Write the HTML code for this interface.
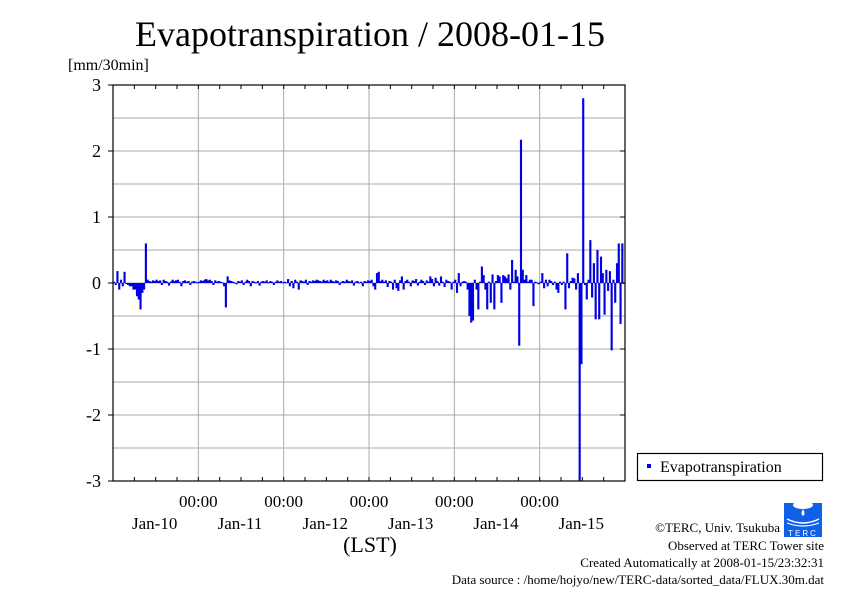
<!DOCTYPE html>
<html><head><meta charset="utf-8"><style>
html,body{margin:0;padding:0;background:#fff;}
svg{display:block;font-family:"Liberation Serif",serif;}
</style></head><body>
<svg id="chart" width="842" height="595" viewBox="0 0 842 595">
<text x="370" y="46" text-anchor="middle" font-size="36">Evapotranspiration / 2008-01-15</text>
<text x="68" y="70" font-size="16">[mm/30min]</text>
<g id="grid"></g>
<g id="bars"></g>
<g id="axes"></g>
<text x="370" y="552" text-anchor="middle" font-size="22">(LST)</text>
<g>
<rect x="637.5" y="453.5" width="185" height="27" fill="#fff" stroke="#000" stroke-width="1.2"/>
<rect x="647" y="464" width="4" height="4" fill="#0000e6"/>
<text x="660" y="472" font-size="16">Evapotranspiration</text>
</g>
<g>
<rect x="784" y="503" width="38" height="34" fill="#1060e8"/>
<ellipse cx="803" cy="505" rx="10" ry="4" fill="#fff"/>
<path d="M803 509 q-3 5 0 7 q3 -2 0 -7z" fill="#fff"/>
<path d="M787 519 q16 8 32 0" stroke="#fff" stroke-width="1.5" fill="none"/>
<path d="M787 523 q16 6 32 0" stroke="#fff" stroke-width="1.2" fill="none"/>
<text x="803" y="536" text-anchor="middle" font-size="8" fill="#fff" font-family="Liberation Sans,sans-serif" letter-spacing="2">TERC</text>
</g>
<g font-size="13" text-anchor="end">
<text x="780" y="532">©TERC, Univ. Tsukuba</text>
<text x="824" y="550">Observed at TERC Tower site</text>
<text x="824" y="567">Created Automatically at 2008-01-15/23:32:31</text>
<text x="824" y="584">Data source : /home/hojyo/new/TERC-data/sorted_data/FLUX.30m.dat</text>
</g>
</svg>
<script>
const yTicks = [-3,-2,-1,0,1,2,3];
const dayLabels = ["Jan-10","Jan-11","Jan-12","Jan-13","Jan-14","Jan-15"];
const timeLabels = ["00:00","00:00","00:00","00:00","00:00"];
const values = [
0.02,-0.03,0.18,-0.1,0.05,-0.05,0.17,0,-0.03,-0.05,-0.05,-0.1,
-0.1,-0.2,-0.25,-0.4,-0.15,-0.1,0.6,0.05,0.03,0.02,0.04,0.03,
0.05,0.03,0.04,-0.03,0.05,0.03,0.02,-0.04,0.02,0.05,0.03,0.04,
0.05,0.02,-0.05,0.03,0.04,0.02,0.03,-0.03,0.02,0.03,0.02,0.01,
0.02,0.04,0.03,0.05,0.06,0.04,0.05,0.03,-0.03,0.04,0.02,0.03,
0.02,0.01,-0.05,-0.37,0.1,0.04,0.03,0.02,0.01,-0.02,0.03,0.02,
0.04,-0.03,0.02,0.05,0.03,-0.05,0.03,0.02,0.01,0.03,-0.04,0.02,
0.03,0.02,0.04,0.01,0.03,0.02,-0.03,0.02,0.04,0.02,0.03,0.01,
0.02,0.01,0.06,-0.05,0.03,-0.08,0.05,0.02,-0.1,0.04,0.03,0.02,
0.05,-0.03,0.03,0.02,0.04,0.03,0.05,0.04,0.03,0.02,0.05,0.03,
0.04,0.02,0.05,0.03,0.02,0.04,0.03,-0.03,0.02,0.03,0.02,0.05,
0.03,0.02,0.04,-0.04,0.02,0.03,0.01,0.02,-0.05,0.03,0.02,0.04,
0.03,0.05,-0.05,-0.1,0.15,0.17,0.03,0.05,0.02,0.04,-0.06,0.03,
0.02,-0.1,0.05,-0.08,-0.12,0.04,0.1,-0.1,0.03,0.05,0.02,-0.05,
0.04,0.03,0.06,-0.04,0.02,0.05,0.03,-0.03,0.04,0.02,0.1,0.06,
-0.05,0.08,0.03,-0.04,0.1,0.02,-0.06,0.05,0.03,0.02,-0.1,0.02,
0.05,-0.15,0.15,-0.05,0.02,0.03,0.02,-0.1,-0.5,-0.6,-0.57,0.05,
-0.1,-0.4,0.02,0.25,0.12,-0.1,-0.4,0.02,-0.3,0.13,-0.4,0.03,
0.12,0.1,-0.3,0.12,0.1,0.07,0.13,-0.1,0.35,0.02,0.2,0.1,
-0.95,2.17,0.2,0.05,0.12,0.02,0.05,0.05,-0.35,0.02,0.01,-0.02,
0.02,0.15,-0.08,0.05,-0.05,0.05,0.03,-0.03,0.02,-0.1,-0.15,0.02,
-0.03,0.02,-0.4,0.45,-0.08,0.03,0.08,0.07,-0.1,0.15,-3,-1.23,
2.8,-0.03,-0.25,0.05,0.65,-0.22,0.3,-0.55,0.5,-0.55,0.4,0.15,
-0.48,0.2,-0.12,0.18,-1.02,0.05,-0.3,0.3,0.6,-0.62,0.6,0
];
const NS="http://www.w3.org/2000/svg";
const X0=113, X1=625, Y0=85, Y1=481, YMIN=-3, YMAX=3, N=288;
function xs(i){return X0+(X1-X0)*i/N;}
function ys(v){return Y1-(v-YMIN)/(YMAX-YMIN)*(Y1-Y0);}
function mk(tag,attrs,parent){const e=document.createElementNS(NS,tag);for(const k in attrs)e.setAttribute(k,attrs[k]);parent.appendChild(e);return e;}
const grid=document.getElementById('grid'), bars=document.getElementById('bars'), axes=document.getElementById('axes');
for(let v=YMIN;v<=YMAX;v+=0.5){
  const l=mk('line',{x1:X0,x2:X1,y1:ys(v),y2:ys(v),stroke:'#aaa','stroke-width':1},grid);
  
  
}
for(let d=1;d<6;d++){
  const x=xs(d*48);
  const l=mk('line',{x1:x,x2:x,y1:Y0,y2:Y1,stroke:'#aaa','stroke-width':1},grid);
  
  
}
const bw=(X1-X0)/N;
values.forEach((v,i)=>{
  const y=Math.min(ys(v),ys(0)), h=Math.max(Math.abs(ys(v)-ys(0)),1);
  const r=mk('rect',{x:xs(i)-bw*0.1,y:y,width:bw*1.2,height:h,fill:'#0000e0'},bars);
  
  
});
const fr=mk('rect',{x:X0,y:Y0,width:X1-X0,height:Y1-Y0,fill:'none',stroke:'#000','stroke-width':1.2},axes);


yTicks.forEach(v=>{
  mk('line',{x1:X0-5,x2:X0,y1:ys(v),y2:ys(v),stroke:'#000'},axes);
  mk('line',{x1:X1-5,x2:X1,y1:ys(v),y2:ys(v),stroke:'#000'},axes);
  const t=mk('text',{x:101,y:ys(v)+6,'text-anchor':'end','font-size':18},axes);
  t.textContent=v;
  
  
});
for(let k=0;k<=24;k++){
  const x=xs(k*12);
  mk('line',{x1:x,x2:x,y1:Y0,y2:Y0+4,stroke:'#000'},axes);
  mk('line',{x1:x,x2:x,y1:Y1,y2:Y1-4,stroke:'#000'},axes);
}
timeLabels.forEach((s,d)=>{
  const t=mk('text',{x:xs((d+1)*48),y:507,'text-anchor':'middle','font-size':17},axes);
  t.textContent=s;
  
  
});
dayLabels.forEach((s,d)=>{
  const t=mk('text',{x:xs(d*48+24)-1,y:529,'text-anchor':'middle','font-size':17},axes);
  t.textContent=s;
  
  
});
</script>
</body></html>
